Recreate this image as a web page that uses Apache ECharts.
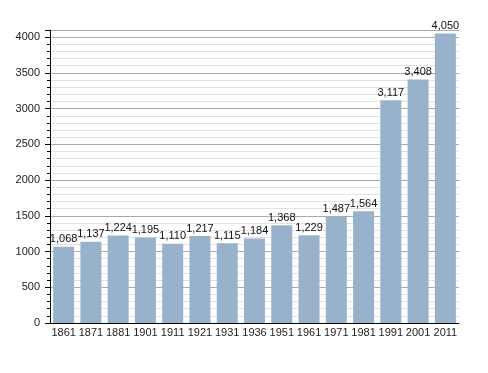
<!DOCTYPE html>
<html><head><meta charset="utf-8">
<script src="https://cdn.jsdelivr.net/npm/echarts@6/dist/echarts.min.js"></script>
<style>html,body{margin:0;padding:0;background:#fff}#c{width:488px;height:373px}</style>
</head><body><div id="c"></div>
<script>
var years = ['1861','1871','1881','1901','1911','1921','1931','1936','1951','1961','1971','1981','1991','2001','2011'];
var population = [1068,1137,1224,1195,1110,1217,1115,1184,1368,1229,1487,1564,3117,3408,4050];
var chart = echarts.init(document.getElementById('c'));
chart.setOption({
  animation:false,
  grid:{left:50,right:29,top:30,bottom:50},
  xAxis:{type:'category',data:years,
    axisLine:{lineStyle:{color:'#000',width:1}},
    axisTick:{show:false},
    axisLabel:{color:'#222',fontSize:11,fontFamily:'Liberation Sans, Arial',margin:4,interval:0}},
  yAxis:{type:'value',min:0,max:4100,interval:500,
    axisLine:{show:true,lineStyle:{color:'#000',width:1}},
    axisTick:{show:true,length:5,lineStyle:{color:'#000'}},
    minorTick:{show:true,splitNumber:5,length:3,lineStyle:{color:'#000'}},
    splitLine:{lineStyle:{color:'#aaa',width:1}},
    minorSplitLine:{show:true,lineStyle:{color:'#e2e2e2',width:1}},
    axisLabel:{color:'#222',fontSize:11,fontFamily:'Liberation Sans, Arial',margin:10,
      formatter:function(v){return v%500===0?String(v):'';}}},
  series:[{type:'bar',data:population,barCategoryGap:'23%',
    itemStyle:{color:'#99b2cb'},
    label:{show:true,position:'top',distance:2,color:'#111',fontSize:11,fontFamily:'Liberation Sans, Arial',
      formatter:function(p){return p.value.toLocaleString('en-US');}}}]
});
</script></body></html>
